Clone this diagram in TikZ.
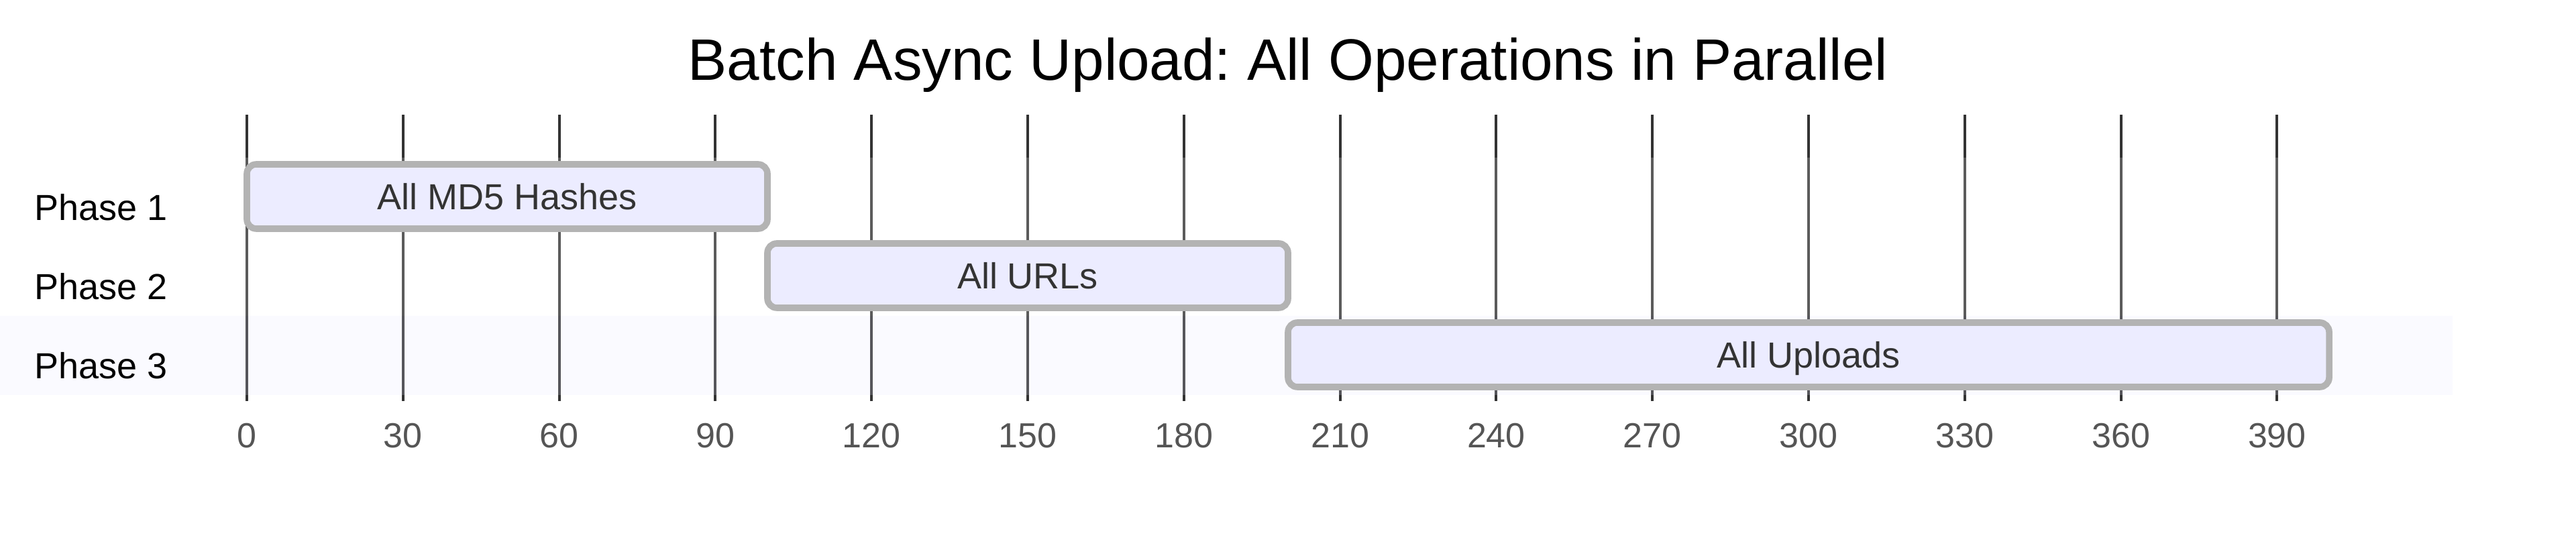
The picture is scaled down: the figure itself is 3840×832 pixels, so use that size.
\documentclass[tikz,border=0pt]{standalone}
\usepackage{fontspec}
\setmainfont{Liberation Sans}
\usepackage{tikz}
\usetikzlibrary{positioning}
\usepackage{xcolor}
\frenchspacing
\definecolor{gtgrid}{RGB}{51,51,51}
\definecolor{gtticktext}{RGB}{85,85,85}
\definecolor{gtband}{RGB}{230,230,255}
\definecolor{gttask}{RGB}{236,236,255}
\definecolor{gtborder}{RGB}{179,179,179}
\definecolor{gttext}{RGB}{51,51,51}
\tikzstyle{task} = [rectangle, rounded corners=3.5pt, minimum height=24pt, inner sep=0pt, outer sep=0pt, text height=9.7pt, text depth=0pt, draw=gtborder, fill=gttask, line width=2.4pt, text=gttext, font=\fontsize{13.5}{16}\selectfont]
\tikzstyle{phase} = [anchor=base west, inner sep=0pt, text=black, font=\fontsize{13.5}{16}\selectfont]
\tikzstyle{ticklabel} = [anchor=base, inner sep=0pt, text=gtticktext, font=\fontsize{13}{15}\selectfont]
\tikzstyle{gridline} = [line width=1pt, color=gtgrid]
\tikzstyle{band} = [fill opacity=0.2]

\begin{document}
\begin{tikzpicture}[x=0.25pt, y=-0.25pt]
\useasboundingbox (0,0) rectangle (3840,832);

% Title
\node (title) [anchor=base, inner sep=0pt, font=\fontsize{21.8}{26}\selectfont] at (1920,120) {Batch Async Upload: All Operations in Parallel};

% Grid lines
\draw[gridline] (368,171) -- (368,598);
\draw[gridline] (600.8,171) -- (600.8,598);
\draw[gridline] (833.6,171) -- (833.6,598);
\draw[gridline] (1066.4,171) -- (1066.4,598);
\draw[gridline] (1299.2,171) -- (1299.2,598);
\draw[gridline] (1532,171) -- (1532,598);
\draw[gridline] (1764.8,171) -- (1764.8,598);
\draw[gridline] (1997.6,171) -- (1997.6,598);
\draw[gridline] (2230.4,171) -- (2230.4,598);
\draw[gridline] (2463.2,171) -- (2463.2,598);
\draw[gridline] (2696,171) -- (2696,598);
\draw[gridline] (2928.8,171) -- (2928.8,598);
\draw[gridline] (3161.6,171) -- (3161.6,598);
\draw[gridline] (3394.4,171) -- (3394.4,598);

% Axis labels
\node (t0) [ticklabel] at (368,668) {0};
\node (t30) [ticklabel] at (600.8,668) {30};
\node (t60) [ticklabel] at (833.6,668) {60};
\node (t90) [ticklabel] at (1066.4,668) {90};
\node (t120) [ticklabel] at (1299.2,668) {120};
\node (t150) [ticklabel] at (1532,668) {150};
\node (t180) [ticklabel] at (1764.8,668) {180};
\node (t210) [ticklabel] at (1997.6,668) {210};
\node (t240) [ticklabel] at (2230.4,668) {240};
\node (t270) [ticklabel] at (2463.2,668) {270};
\node (t300) [ticklabel] at (2696,668) {300};
\node (t330) [ticklabel] at (2928.8,668) {330};
\node (t360) [ticklabel] at (3161.6,668) {360};
\node (t390) [ticklabel] at (3394.4,668) {390};

% Row bands
\fill[band, white] (0,235) rectangle (3656,353);
\fill[band, white] (0,353) rectangle (3656,471);
\fill[band, gtband] (0,471) rectangle (3656,589);

% Tasks
\node (md5) [task, minimum width=194pt] at (756,293) {All MD5 Hashes};
\node (urls) [task, minimum width=194pt] at (1532,411) {All URLs};
\node (uploads) [task, minimum width=388pt] at (2696,529) {All Uploads};

% Phase names
\node (phase1) [phase] at (51,329) {Phase 1};
\node (phase2) [phase] at (51,447) {Phase 2};
\node (phase3) [phase] at (51,565) {Phase 3};
\end{tikzpicture}
\end{document}
